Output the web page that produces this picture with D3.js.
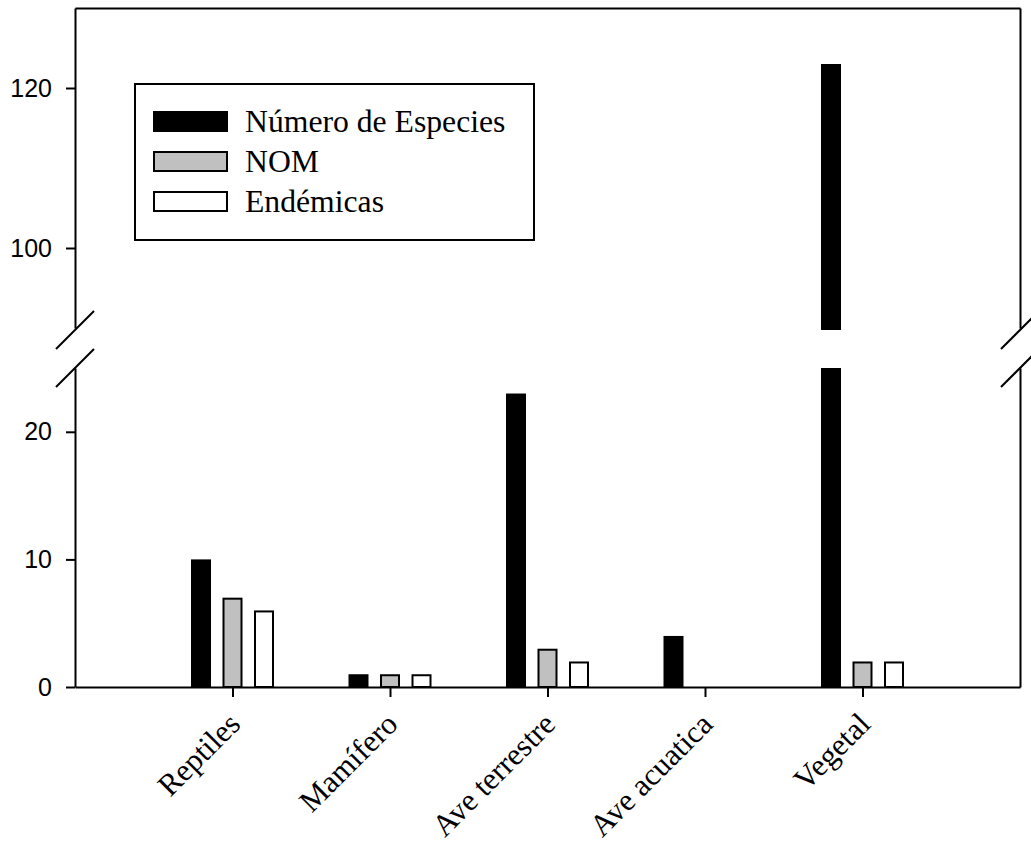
<!DOCTYPE html>
<html>
<head>
<meta charset="utf-8">
<script src="https://cdn.jsdelivr.net/npm/d3@7"></script>
<style>
  html, body { margin: 0; padding: 0; background: #fff; }
  svg { display: block; }
</style>
</head>
<body>
<svg id="chart" width="1031" height="844"></svg>
<script>
// ---- data ----
const categories = ["Reptiles", "Mamífero", "Ave terrestre", "Ave acuatica", "Vegetal"];
const seriesNames = ["Número de Especies", "NOM", "Endémicas"];
const especies = [10, 1, 23, 4, 123];
const nom = [7, 1, 3, 0, 2];
const endemicas = [6, 1, 2, 0, 2];
const lowerTicks = [0, 10, 20];
const upperTicks = [100, 120];
const lowerDomain = [0, 25];
const upperDomain = [90, 130];

const seriesValues = [especies, nom, endemicas];
const seriesFill = ["#000000", "#c0c0c0", "#ffffff"];

(function () {
// ---- layout ----
const svg = d3.select("#chart");
const pLeft = 75, pRight = 1020, pTop = 8, pBottom = 687;
const lowerTop = 368, upperBottom = 328;

const x = d3.scaleLinear().domain([0, categories.length + 1]).range([pLeft, pRight]);
const yLow = d3.scaleLinear().domain(lowerDomain).range([pBottom, lowerTop]);
const yHigh = d3.scaleLinear().domain(upperDomain).range([upperBottom, pTop]);

const unit = x(1) - x(0);
const offsets = [-0.2, 0, 0.2];
const barW = unit * 0.127;
const sw = 2;

// ---- bars ----
const gBars = svg.append("g");
seriesValues.forEach((vals, s) => {
  vals.forEach((v, i) => {
    if (v <= 0) return;
    const cx = x(i + 1) + offsets[s] * unit;
    const vLow = Math.min(v, lowerDomain[1]);
    gBars.append("rect")
      .attr("x", cx - barW / 2 + sw / 2)
      .attr("width", barW - sw)
      .attr("y", yLow(vLow) + sw / 2)
      .attr("height", yLow(0) - yLow(vLow) - sw / 2)
      .attr("fill", seriesFill[s])
      .attr("stroke", "#000")
      .attr("stroke-width", sw);
    if (v > upperDomain[0]) {
      gBars.append("rect")
        .attr("x", cx - barW / 2 + sw / 2)
        .attr("width", barW - sw)
        .attr("y", yHigh(v) + sw / 2)
        .attr("height", yHigh(upperDomain[0]) - yHigh(v))
        .attr("fill", seriesFill[s])
        .attr("stroke", "#000")
        .attr("stroke-width", sw);
    }
  });
});

// ---- axes ----
function styleAxis(g) {
  g.selectAll(".domain").attr("stroke", "#000").attr("stroke-width", 2);
  g.selectAll(".tick line").attr("stroke", "#000").attr("stroke-width", 2);
}

const yFont = "'Liberation Sans', Arial, sans-serif";
const serif = "'Liberation Serif', 'Times New Roman', serif";

const gLeftLow = svg.append("g").attr("transform", `translate(${pLeft},0)`)
  .call(d3.axisLeft(yLow).tickValues(lowerTicks).tickSize(9).tickSizeOuter(0).tickPadding(14));
const gLeftHigh = svg.append("g").attr("transform", `translate(${pLeft},0)`)
  .call(d3.axisLeft(yHigh).tickValues(upperTicks).tickSize(9).tickSizeOuter(0).tickPadding(14));
[gLeftLow, gLeftHigh].forEach(g => {
  styleAxis(g);
  g.selectAll(".tick text").attr("font-family", yFont).attr("font-size", 25).attr("fill", "#000");
});

svg.append("g").attr("transform", `translate(${pRight},0)`)
  .call(d3.axisRight(yLow).tickValues([]).tickSizeOuter(0)).call(styleAxis);
svg.append("g").attr("transform", `translate(${pRight},0)`)
  .call(d3.axisRight(yHigh).tickValues([]).tickSizeOuter(0)).call(styleAxis);
svg.append("g").attr("transform", `translate(0,${pTop})`)
  .call(d3.axisTop(x).tickValues([]).tickSizeOuter(0)).call(styleAxis);

const gBottom = svg.append("g").attr("transform", `translate(0,${pBottom})`)
  .call(d3.axisBottom(x).tickValues(categories.map((c, i) => i + 1))
    .tickFormat((d) => categories[d - 1]).tickSize(10).tickSizeOuter(0));
styleAxis(gBottom);
gBottom.selectAll(".tick text")
  .attr("font-family", serif).attr("font-size", 31).attr("fill", "#000")
  .attr("text-anchor", "end")
  .attr("dy", 0).attr("y", 0)
  .attr("transform", "translate(9,39) rotate(-45)");

// ---- break marks ----
const gBreak = svg.append("g").attr("stroke", "#000").attr("stroke-width", 2);
[pLeft, pRight].forEach(ax => {
  [upperBottom + 2, lowerTop].forEach(cy => {
    gBreak.append("line")
      .attr("x1", ax - 19).attr("y1", cy + 19)
      .attr("x2", ax + 19).attr("y2", cy - 19);
  });
});

// ---- legend ----
const gLeg = svg.append("g");
gLeg.append("rect").attr("x", 135).attr("y", 84).attr("width", 399).attr("height", 156)
  .attr("fill", "#fff").attr("stroke", "#000").attr("stroke-width", 2);
seriesNames.forEach((name, s) => {
  const yb = 132 + s * 40;
  gLeg.append("rect").attr("x", 154).attr("y", yb - 20).attr("width", 73).attr("height", 19)
    .attr("fill", seriesFill[s]).attr("stroke", "#000").attr("stroke-width", 2);
  gLeg.append("text").attr("x", 245).attr("y", yb)
    .attr("font-family", serif).attr("font-size", 31.7).attr("fill", "#000")
    .text(name);
});
})();
</script>
</body>
</html>
